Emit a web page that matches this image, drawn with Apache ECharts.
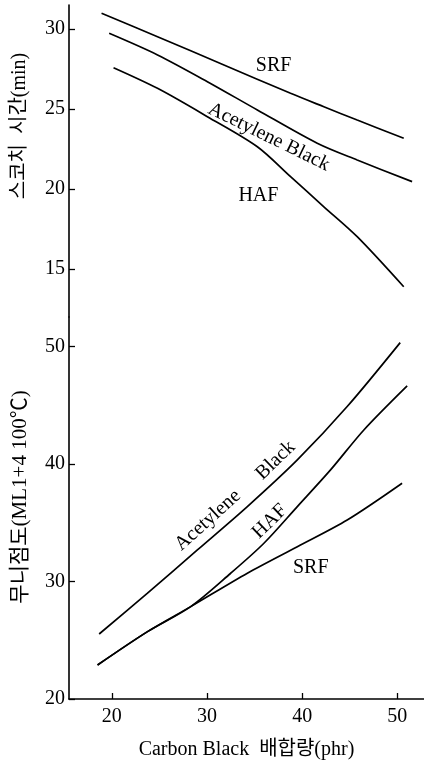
<!DOCTYPE html>
<html>
<head>
<meta charset="utf-8">
<script src="https://cdn.jsdelivr.net/npm/echarts@6/dist/echarts.min.js"></script>
<style>
html,body{margin:0;padding:0;background:#fff;}
#chart{width:424px;height:762px;}
</style>
</head>
<body>
<div id="chart"></div>
<script>
// ---- data ----
var xTicks = [20, 30, 40, 50];
var scorchTicks = [15, 20, 25, 30];
var mooneyTicks = [20, 30, 40, 50];

// Top panel: scorch time (min)
var scorchSRF_x = [18.92, 24.8, 31.78, 38.78, 42.28, 45.78, 50.67];
var scorchSRF_y = [30.98, 29.52, 27.75, 25.98, 25.14, 24.31, 23.17];
var scorchAce_x = [19.72, 24.8, 30.04, 35.29, 41.58, 45.78, 51.55];
var scorchAce_y = [29.73, 28.38, 26.71, 24.94, 22.86, 21.81, 20.46];
var scorchHAF_x = [20.18, 24.8, 30.04, 35.29, 38.78, 42.28, 45.78, 50.67];
var scorchHAF_y = [27.58, 26.29, 24.52, 22.64, 20.77, 18.89, 17.02, 13.89];

// Bottom panel: Mooney viscosity (ML1+4 100℃)
var mooneyAce_x = [18.67, 23.75, 28.99, 34.24, 39.49, 44.73, 50.3];
var mooneyAce_y = [25.53, 29.0, 32.68, 36.37, 40.34, 44.88, 50.32];
var mooneyHAF_x = [18.5, 23.75, 28.29, 32.49, 35.98, 39.49, 42.98, 46.48, 51.03];
var mooneyHAF_y = [22.89, 25.73, 27.86, 30.70, 33.25, 36.37, 39.49, 42.89, 46.64];
var mooneySRF_x = [18.5, 23.75, 28.29, 34.24, 39.49, 44.73, 50.5];
var mooneySRF_y = [22.89, 25.73, 27.86, 30.70, 32.96, 35.23, 38.36];

var xName = 'Carbon Black  배합량(phr)';
var topYName = '스코치  시간(min)';
var bottomYName = '무니점도(ML1+4 100℃)';

function zip(xs, ys) { return xs.map(function (x, i) { return [x, ys[i]]; }); }

var SERIF = '"Liberation Serif", "DejaVu Serif", "Noto Sans CJK KR", serif';
var MIXED = '"Liberation Serif", "Noto Sans CJK KR", serif';

var chart = echarts.init(document.getElementById('chart'), null, { renderer: 'canvas' });

var axisLine = { show: true, lineStyle: { color: '#000', width: 1.6 } };
var lineStyle = { color: '#000', width: 1.7 };

function yAxis(gridIndex, min, max, ticks) {
  return {
    type: 'value', gridIndex: gridIndex, min: min, max: max,
    axisLine: axisLine,
    axisTick: { show: true, inside: true, length: 6, customValues: ticks, lineStyle: { color: '#000', width: 1.3 } },
    axisLabel: { show: true, customValues: ticks, margin: 4, color: '#000', fontSize: 20, fontFamily: SERIF },
    splitLine: { show: false }
  };
}

function ln(name, x, y, xi, yi) {
  return {
    type: 'line', name: name, xAxisIndex: xi, yAxisIndex: yi,
    data: zip(x, y), smooth: 0.3, showSymbol: false, symbol: 'none',
    lineStyle: lineStyle, animation: false, silent: true
  };
}

var option = {
  backgroundColor: '#fff',
  animation: false,
  grid: [
    { left: 69, right: 0, top: 5, height: 312, outerBoundsMode: 'none', containLabel: false },
    { left: 69, right: 0, top: 317, height: 382, outerBoundsMode: 'none', containLabel: false }
  ],
  xAxis: [
    { type: 'value', gridIndex: 0, min: 15.5, max: 52.8, show: false },
    {
      type: 'value', gridIndex: 1, min: 15.5, max: 52.8,
      axisLine: axisLine,
      axisTick: { show: true, inside: true, length: 6, customValues: xTicks, lineStyle: { color: '#000', width: 1.3 } },
      axisLabel: { show: true, customValues: xTicks, margin: 8, color: '#000', fontSize: 20, fontFamily: SERIF },
      splitLine: { show: false },
      name: xName, nameLocation: 'middle', nameGap: 41,
      nameTextStyle: { color: '#000', fontSize: 20, fontFamily: MIXED }
    }
  ],
  yAxis: [
    yAxis(0, 12, 31.5, scorchTicks),
    yAxis(1, 20, 52.5, mooneyTicks)
  ],
  series: [
    ln('SRF', scorchSRF_x, scorchSRF_y, 0, 0),
    ln('Acetylene Black', scorchAce_x, scorchAce_y, 0, 0),
    ln('HAF', scorchHAF_x, scorchHAF_y, 0, 0),
    ln('Acetylene Black', mooneyAce_x, mooneyAce_y, 1, 1),
    ln('HAF', mooneyHAF_x, mooneyHAF_y, 1, 1),
    ln('SRF', mooneySRF_x, mooneySRF_y, 1, 1)
  ]
};
chart.setOption(option);

// curve labels anchored at data coordinates
var curveLabels = [
  { text: 'SRF', panel: 0, at: [37.0, 27.7], rot: 0 },
  { text: 'Acetylene Black', panel: 0, at: [36.5, 23.25], rot: -26 },
  { text: 'HAF', panel: 0, at: [35.4, 19.55], rot: 0 },
  { text: 'Acetylene', panel: 1, at: [30.1, 35.2], rot: 42 },
  { text: 'Black', panel: 1, at: [37.2, 40.3], rot: 44 },
  { text: 'HAF', panel: 1, at: [36.6, 35.1], rot: 44 },
  { text: 'SRF', panel: 1, at: [40.9, 31.2], rot: 0 }
];

var graphics = curveLabels.map(function (l) {
  var p = chart.convertToPixel({ xAxisIndex: l.panel, yAxisIndex: l.panel }, l.at);
  return {
    type: 'text', x: p[0], y: p[1], rotation: l.rot * Math.PI / 180,
    style: { text: l.text, fill: '#000', font: '20px ' + SERIF, align: 'center', verticalAlign: 'middle' },
    silent: true
  };
});

// y axis titles (rotated, reading bottom-to-top)
graphics.push({
  type: 'text', x: 20, y: 126, rotation: Math.PI / 2,
  style: { text: topYName, fill: '#000', font: '20px ' + MIXED, align: 'center', verticalAlign: 'middle' },
  silent: true
});
graphics.push({
  type: 'text', x: 20, y: 497, rotation: Math.PI / 2,
  style: { text: bottomYName, fill: '#000', font: '21px ' + MIXED, align: 'center', verticalAlign: 'middle' },
  silent: true
});

chart.setOption({ graphic: graphics });
</script>
</body>
</html>
